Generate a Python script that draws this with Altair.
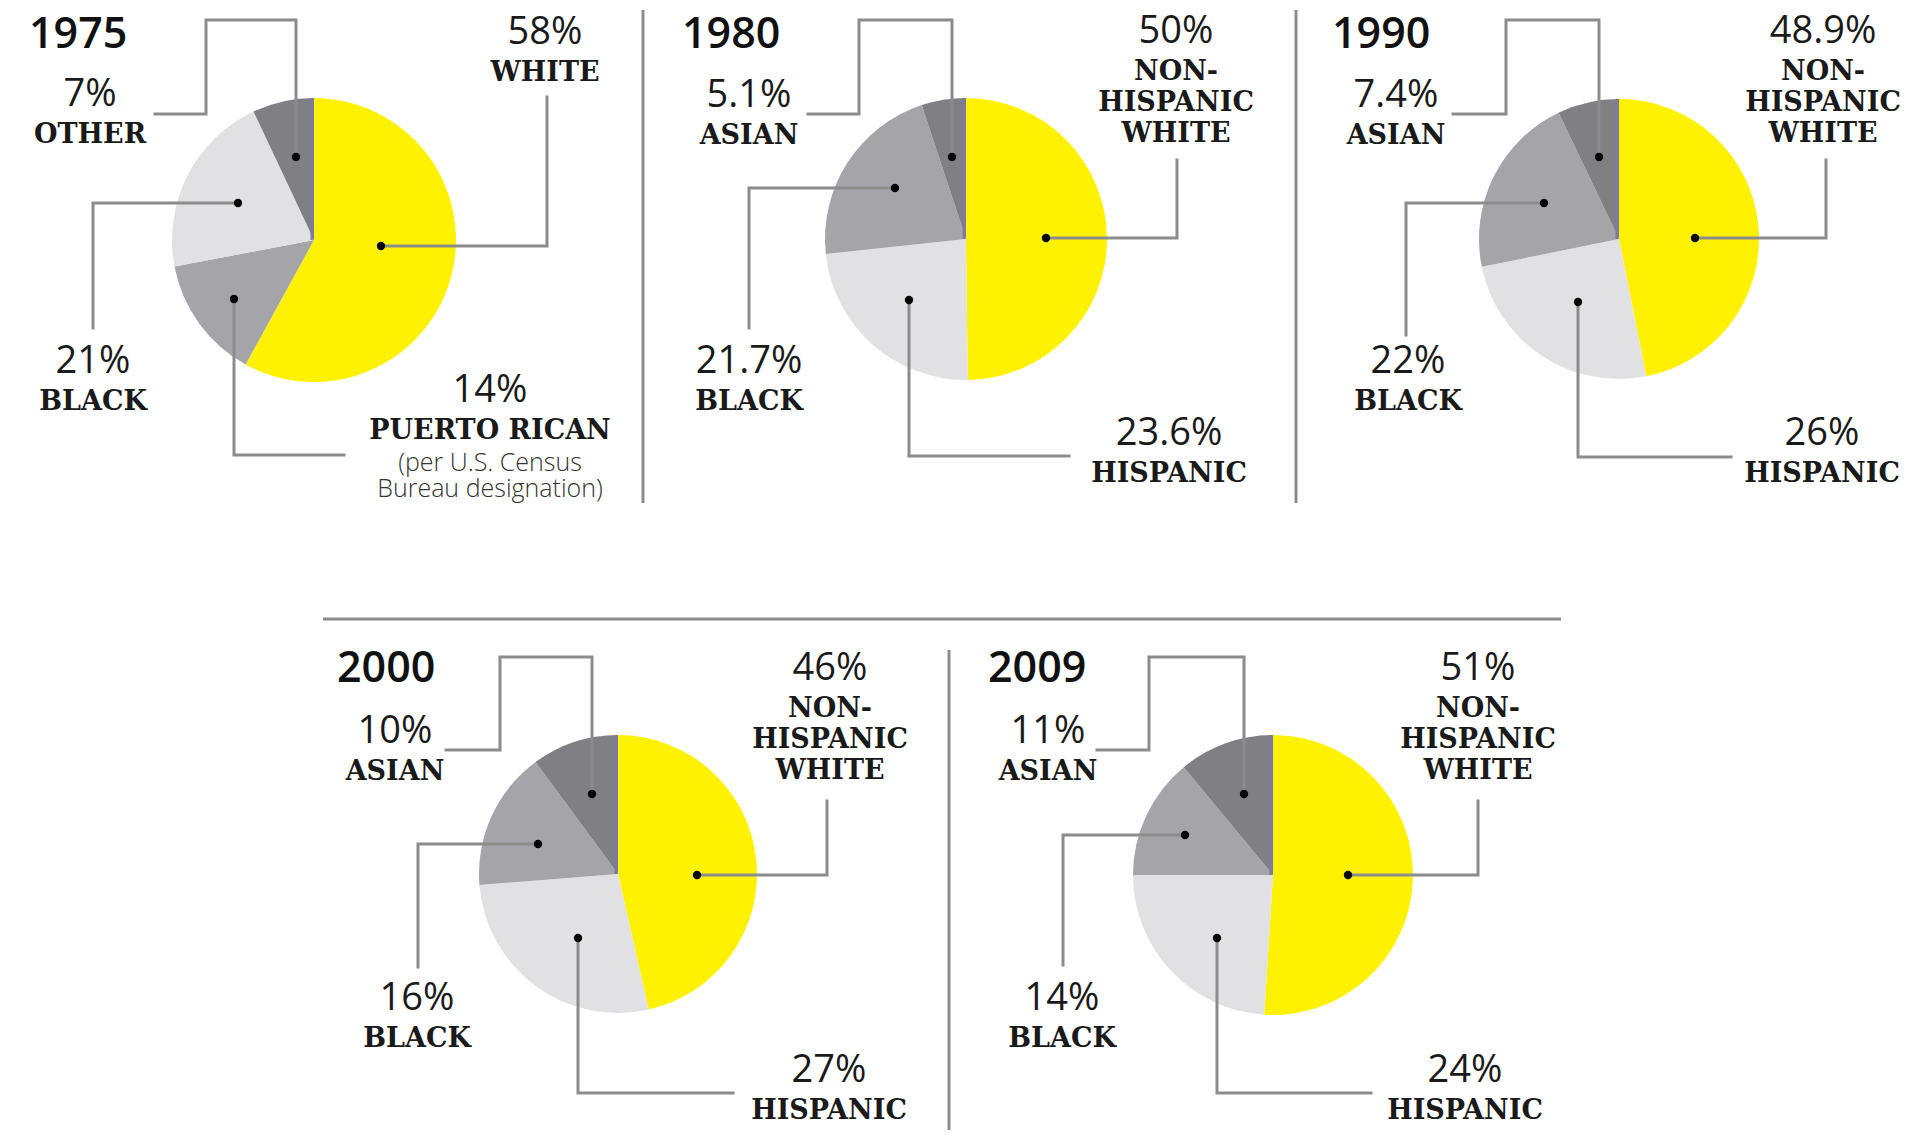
import math
import pandas as pd
import altair as alt

# ---------------- DATA ----------------
years = ["1975", "1980", "1990", "2000", "2009"]

groups_1975 = ["White", "Puerto Rican", "Black", "Other"]
values_1975 = [58, 14, 21, 7]

groups_1980 = ["Non-Hispanic White", "Hispanic", "Black", "Asian"]
values_1980 = [50, 23.6, 21.7, 5.1]

groups_1990 = ["Non-Hispanic White", "Hispanic", "Black", "Asian"]
values_1990 = [48.9, 26, 22, 7.4]

groups_2000 = ["Non-Hispanic White", "Hispanic", "Black", "Asian"]
values_2000 = [46, 27, 16, 10]

groups_2009 = ["Non-Hispanic White", "Hispanic", "Black", "Asian"]
values_2009 = [51, 24, 14, 11]

label_names = {
    "White": ["WHITE"],
    "Puerto Rican": ["PUERTO RICAN"],
    "Black": ["BLACK"],
    "Other": ["OTHER"],
    "Non-Hispanic White": ["NON-", "HISPANIC", "WHITE"],
    "Hispanic": ["HISPANIC"],
    "Asian": ["ASIAN"],
}
note_1975 = ["(per U.S. Census", "Bureau designation)"]

series = {
    "1975": (groups_1975, values_1975),
    "1980": (groups_1980, values_1980),
    "1990": (groups_1990, values_1990),
    "2000": (groups_2000, values_2000),
    "2009": (groups_2009, values_2009),
}

# ---------------- STYLE ----------------
shades = {
    "1975": ["yellow", "medium", "light", "dark"],
    "1980": ["yellow", "light", "medium", "dark"],
    "1990": ["yellow", "light", "medium", "dark"],
    "2000": ["yellow", "light", "medium", "dark"],
    "2009": ["yellow", "light", "medium", "dark"],
}
shade_domain = ["yellow", "light", "medium", "dark"]
shade_range = ["#FFF200", "#E1E1E3", "#A5A5A9", "#7F7F84"]
LINE_COLOR = "#8C8C8C"
EDGE_COLOR = "#7D7AAA"

# ---------------- LAYOUT (reference pixel positions) ----------------
W, H = 1897, 1122
pie_layout = {
    "1975": (314, 240, 142),
    "1980": (966, 239, 141),
    "1990": (1619, 239, 140),
    "2000": (618, 874, 139),
    "2009": (1273, 875, 140),
}
year_pos = {
    "1975": (29, 35), "1980": (682, 35), "1990": (1332, 35),
    "2000": (337, 669), "2009": (988, 669),
}
# per year, per group index: (leader path starting at dot, label anchor (x, y of % line))
leaders = {
    "1975": [
        ([(381, 246), (547, 246), (547, 97)], (545, 33)),
        ([(234, 299), (234, 455), (344, 455)], (490, 391)),
        ([(238, 203), (93, 203), (93, 328)], (93, 362)),
        ([(296, 157), (296, 20), (206, 20), (206, 114), (155, 114)], (90, 95)),
    ],
    "1980": [
        ([(1046, 238), (1177, 238), (1177, 160)], (1176, 32)),
        ([(909, 300), (909, 456), (1069, 456)], (1169, 434)),
        ([(895, 188), (749, 188), (749, 328)], (749, 362)),
        ([(952, 157), (952, 20), (859, 20), (859, 114), (808, 114)], (749, 96)),
    ],
    "1990": [
        ([(1695, 238), (1826, 238), (1826, 160)], (1823, 32)),
        ([(1578, 302), (1578, 457), (1731, 457)], (1822, 434)),
        ([(1544, 203), (1406, 203), (1406, 335)], (1408, 362)),
        ([(1599, 157), (1599, 20), (1506, 20), (1506, 114), (1453, 114)], (1396, 96)),
    ],
    "2000": [
        ([(697, 875), (827, 875), (827, 801)], (830, 669)),
        ([(578, 938), (578, 1093), (733, 1093)], (829, 1071)),
        ([(538, 844), (418, 844), (418, 967)], (417, 999)),
        ([(592, 794), (592, 657), (500, 657), (500, 750), (446, 750)], (395, 732)),
    ],
    "2009": [
        ([(1348, 875), (1478, 875), (1478, 801)], (1478, 669)),
        ([(1217, 938), (1217, 1093), (1371, 1093)], (1465, 1071)),
        ([(1185, 835), (1063, 835), (1063, 965)], (1062, 999)),
        ([(1244, 794), (1244, 657), (1149, 657), (1149, 750), (1097, 750)], (1048, 732)),
    ],
}
note_pos = (490, 463)
NAME_GAP, NAME_STEP, NOTE_STEP = 40, 31, 26
dividers = [
    (643, 10, 643, 503),
    (1296, 10, 1296, 503),
    (323, 619, 1561, 619),
    (949, 650, 949, 1138),
]

# ---------------- TABLES ----------------
slice_rows, dot_rows, line_rows, pct_rows, name_rows = [], [], [], [], []
for y in years:
    groups, values = series[y]
    cx, cy, r = pie_layout[y]
    for i, (g, v) in enumerate(zip(groups, values)):
        slice_rows.append(dict(year=y, group=g, order=i, value=v,
                               shade=shades[y][i], cx=cx, cy=cy, r=r))
        path, (lx, ly) = leaders[y][i]
        dot_rows.append(dict(x=path[0][0], y=path[0][1]))
        for k, (px, py) in enumerate(path):
            line_rows.append(dict(lid=f"{y}-{i}", seq=k, x=px, y=py))
        pct_rows.append(dict(x=lx, y=ly, text=f"{v:g}%"))
        for j, t in enumerate(label_names[g]):
            name_rows.append(dict(x=lx, y=ly + NAME_GAP + j * NAME_STEP, text=t))

slices_df = pd.DataFrame(slice_rows)
dots_df = pd.DataFrame(dot_rows)
lines_df = pd.DataFrame(line_rows)
pct_df = pd.DataFrame(pct_rows)
name_df = pd.DataFrame(name_rows)
note_df = pd.DataFrame([dict(x=note_pos[0], y=note_pos[1] + j * NOTE_STEP, text=t)
                        for j, t in enumerate(note_1975)])
year_df = pd.DataFrame([dict(x=year_pos[y][0], y=year_pos[y][1], text=y) for y in years])
div_df = pd.DataFrame([dict(x=a, y=b, x2=c, y2=d) for a, b, c, d in dividers])
edge_df = pd.DataFrame([dict(x=pie_layout[y][0] - 2, y=pie_layout[y][1],
                             y2=pie_layout[y][1] - pie_layout[y][2]) for y in years])

# ---------------- CHART ----------------
xs = alt.Scale(domain=[8, 8 + W], range=[0, W], nice=False, zero=False)
ys = alt.Scale(domain=[8, 8 + H], range=[0, H], nice=False, zero=False)
X = lambda f: alt.X(f, type="quantitative", scale=xs, axis=None)
Y = lambda f: alt.Y(f, type="quantitative", scale=ys, axis=None)

pies = alt.Chart(slices_df).transform_stack(
    stack="value", groupby=["year"], as_=["t0", "t1"], offset="normalize",
    sort=[alt.SortField("order", order="ascending")],
).mark_arc().encode(
    x=X("cx"), y=Y("cy"),
    theta=alt.Theta("t0:Q", scale=alt.Scale(domain=[0, 1], range=[0, 2 * math.pi])),
    theta2="t1:Q",
    radius=alt.Radius("r:Q", scale=None),
    color=alt.Color("shade:N", scale=alt.Scale(domain=shade_domain, range=shade_range), legend=None),
)

edges = alt.Chart(edge_df).mark_rule(color=EDGE_COLOR, strokeWidth=3).encode(
    x=X("x"), y=Y("y"), y2="y2:Q")

divs = alt.Chart(div_df).mark_rule(color=LINE_COLOR, strokeWidth=3).encode(
    x=X("x"), y=Y("y"), x2="x2:Q", y2="y2:Q")

leader_lines = alt.Chart(lines_df).mark_line(
    color=LINE_COLOR, strokeWidth=3, strokeJoin="miter", strokeCap="square"
).encode(x=X("x"), y=Y("y"), detail="lid:N", order="seq:Q")

dots = alt.Chart(dots_df).mark_circle(color="#000000", size=70, opacity=1).encode(
    x=X("x"), y=Y("y"))

year_text = alt.Chart(year_df).mark_text(
    font="Open Sans", fontSize=43, fontWeight=600, align="left", baseline="middle", color="#111111"
).encode(x=X("x"), y=Y("y"), text="text:N")

pct_text = alt.Chart(pct_df).mark_text(
    font="Open Sans", fontSize=38, fontWeight="normal", align="center", baseline="middle", color="#1a1a1a"
).encode(x=X("x"), y=Y("y"), text="text:N")

name_text = alt.Chart(name_df).mark_text(
    font="DejaVu Serif", fontSize=27, fontWeight="bold", align="center", baseline="middle", color="#1a1a1a"
).encode(x=X("x"), y=Y("y"), text="text:N")

note_text = alt.Chart(note_df).mark_text(
    font="Open Sans", fontSize=25, fontWeight=300, align="center", baseline="middle", color="#333333"
).encode(x=X("x"), y=Y("y"), text="text:N")

chart = alt.layer(
    pies, edges, divs, leader_lines, dots, year_text, pct_text, name_text, note_text
).properties(
    width=W, height=H, padding=0,
    autosize=alt.AutoSizeParams(type="none"),
    background="#ffffff",
).configure_view(stroke=None)

chart.save("out.html", embed_options={"renderer": "svg", "actions": False})
